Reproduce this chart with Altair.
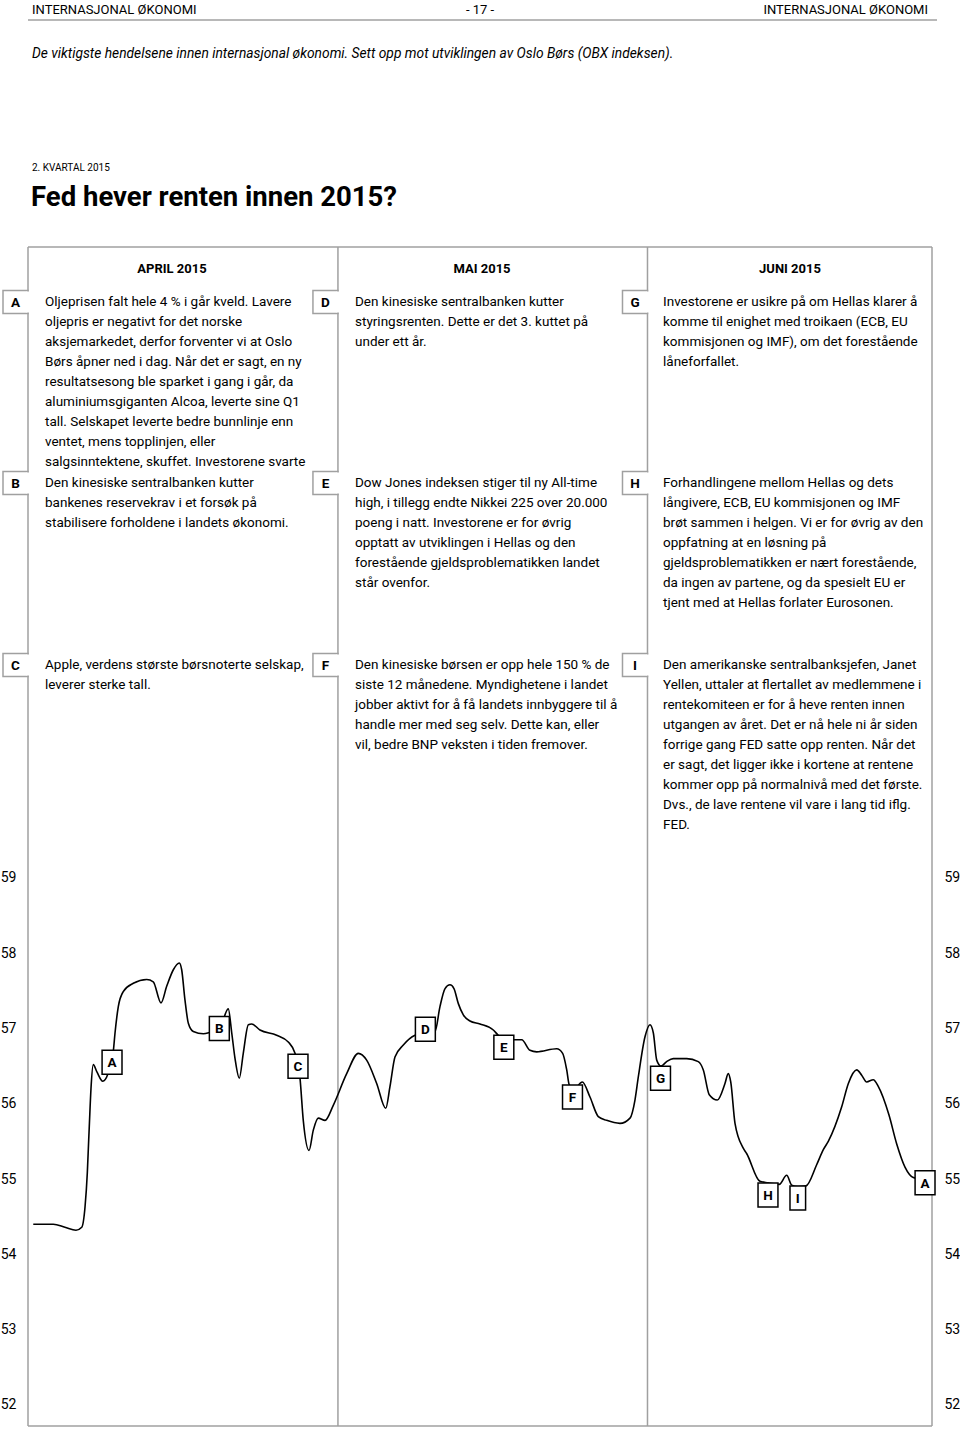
import altair as alt
import pandas as pd

# ------------------------------------------------------------------ data
dag = [0.53, 2.55, 3.72, 4.83, 5.41, 5.74, 5.97, 6.11, 6.17, 6.34, 6.57, 6.95, 7.52, 8.05,
       8.59, 8.76, 9.09, 9.59, 10.60, 11.95, 12.61, 13.39, 13.96, 14.63, 15.23, 15.47,
       15.80, 16.14, 16.64, 17.65, 18.32, 19.30, 20.16, 20.51, 20.84, 21.27, 21.67, 22.18,
       22.52, 23.35, 25.03, 26.20, 26.88, 27.38, 27.71, 28.29, 28.72, 29.22, 29.90, 30.73,
       32.08, 33.25, 34.09, 35.10, 36.01, 36.44, 36.94, 37.78, 38.96, 39.96, 40.97, 41.47,
       41.98, 42.48, 42.88, 43.32, 43.82, 44.49, 45.50, 46.84, 47.34, 48.02, 48.85, 49.70,
       50.53, 51.21, 53.22, 53.82, 54.23, 54.49, 55.06, 55.57, 55.80, 56.57, 57.41, 58.25,
       59.59, 60.60, 61.10, 61.44, 62.11, 62.61, 62.95, 63.29, 63.72, 64.29, 64.96, 66.31,
       67.47, 67.98, 68.58, 69.39, 70.16, 70.49, 70.74, 71.17, 72.00, 72.34, 73.68, 74.49,
       75.63, 76.37, 76.88, 77.51, 78.32, 79.39, 80.06, 80.56, 81.91, 82.58, 83.42, 83.92,
       84.42, 85.09, 85.59, 86.67, 87.44, 88.28, 89.12, 89.80]
obx = [54.40, 54.40, 54.36, 54.32, 54.36, 54.63, 55.08, 55.52, 55.70, 56.20, 56.52, 56.42,
       56.30, 56.40, 56.70, 56.94, 57.29, 57.49, 57.60, 57.65, 57.62, 57.34, 57.56, 57.78,
       57.87, 57.78, 57.38, 57.07, 56.96, 56.93, 56.95, 57.00, 57.26, 56.94, 56.60, 56.34,
       56.67, 57.05, 57.06, 56.98, 56.91, 56.82, 56.67, 56.34, 55.78, 55.38, 55.65, 55.81,
       55.78, 55.98, 56.40, 56.67, 56.58, 56.27, 55.94, 56.23, 56.62, 56.78, 56.91, 56.94,
       56.96, 57.29, 57.53, 57.58, 57.53, 57.33, 57.18, 57.10, 57.06, 56.98, 56.91, 56.85,
       56.85, 56.85, 56.71, 56.69, 56.73, 56.67, 56.45, 56.25, 56.20, 56.27, 56.29, 56.09,
       55.83, 55.78, 55.74, 55.81, 56.05, 56.36, 56.89, 57.05, 56.94, 56.58, 56.50, 56.56,
       56.60, 56.60, 56.56, 56.45, 56.12, 56.05, 56.27, 56.40, 56.29, 55.74, 55.41, 55.34,
       54.97, 54.95, 54.93, 55.05, 54.92, 54.90, 54.91, 55.19, 55.39, 55.50, 55.96, 56.27,
       56.45, 56.38, 56.29, 56.32, 56.23, 55.85, 55.47, 55.16, 55.02, 55.00]

boks_bokstav = ["A", "B", "C", "D", "E", "F", "G", "H", "I", "A"]
boks_dag = [8.46, 19.26, 27.18, 40.00, 47.90, 54.81, 63.67, 74.49, 77.49, 90.30]
boks_obx = [56.55, 57.00, 56.50, 56.99, 56.75, 56.09, 56.34, 54.79, 54.75, 54.95]

maaned_grenser = [31.2, 62.36]
y_verdier = [52, 53, 54, 55, 56, 57, 58, 59]
maaneder = ["APRIL 2015", "MAI 2015", "JUNI 2015"]

topptekst = "INTERNASJONAL ØKONOMI"
sidetall = "- 17 -"
undertittel = ("De viktigste hendelsene innen internasjonal økonomi. "
               "Sett opp mot utviklingen av Oslo Børs (OBX indeksen).")
kvartal = "2. KVARTAL 2015"
tittel = "Fed hever renten innen 2015?"

hendelser = {
    "A": ["Oljeprisen falt hele 4 % i går kveld. Lavere",
          "oljepris er negativt for det norske",
          "aksjemarkedet, derfor forventer vi at Oslo",
          "Børs åpner ned i dag. Når det er sagt, en ny",
          "resultatsesong ble sparket i gang i går, da",
          "aluminiumsgiganten Alcoa, leverte sine Q1",
          "tall. Selskapet leverte bedre bunnlinje enn",
          "ventet, mens topplinjen, eller",
          "salgsinntektene, skuffet. Investorene svarte"],
    "B": ["Den kinesiske sentralbanken kutter",
          "bankenes reservekrav i et forsøk på",
          "stabilisere forholdene i landets økonomi."],
    "C": ["Apple, verdens største børsnoterte selskap,",
          "leverer sterke tall."],
    "D": ["Den kinesiske sentralbanken kutter",
          "styringsrenten. Dette er det 3. kuttet på",
          "under ett år."],
    "E": ["Dow Jones indeksen stiger til ny All-time",
          "high, i tillegg endte Nikkei 225 over 20.000",
          "poeng i natt. Investorene er for øvrig",
          "opptatt av utviklingen i Hellas og den",
          "forestående gjeldsproblematikken landet",
          "står ovenfor."],
    "F": ["Den kinesiske børsen er opp hele 150 % de",
          "siste 12 månedene. Myndighetene i landet",
          "jobber aktivt for å få landets innbyggere til å",
          "handle mer med seg selv. Dette kan, eller",
          "vil, bedre BNP veksten i tiden fremover."],
    "G": ["Investorene er usikre på om Hellas klarer å",
          "komme til enighet med troikaen (ECB, EU",
          "kommisjonen og IMF), om det forestående",
          "låneforfallet."],
    "H": ["Forhandlingene mellom Hellas og dets",
          "långivere, ECB, EU kommisjonen og IMF",
          "brøt sammen i helgen. Vi er for øvrig av den",
          "oppfatning at en løsning på",
          "gjeldsproblematikken er nært forestående,",
          "da ingen av partene, og da spesielt EU er",
          "tjent med at Hellas forlater Eurosonen."],
    "I": ["Den amerikanske sentralbanksjefen, Janet",
          "Yellen, uttaler at flertallet av medlemmene i",
          "rentekomiteen er for å heve renten innen",
          "utgangen av året. Det er nå hele ni år siden",
          "forrige gang FED satte opp renten. Når det",
          "er sagt, det ligger ikke i kortene at rentene",
          "kommer opp på normalnivå med det første.",
          "Dvs., de lave rentene vil vare i lang tid iflg.",
          "FED."],
}

# ------------------------------------------------------------------ layout
PAGE_W, PAGE_H = 960, 1429
L, T, R, B = 28, 247, 932, 1426
W, H = R - L, B - T
DAYS = 91.0
Y_DOM = [51.721, 67.378]
FONT = "Roboto"
GRAY = "#a0a0a0"


def px(x):
    return x - L


def py(y):
    return y - T


col_right = [L] + [L + g * W / DAYS for g in maaned_grenser]
col_text_x = [45, 355, 663]
row_y = [302, 483, 665]
line_h = 20

# text tables
body_rows, tab_rows, tab_letter_rows, erase_rows = [], [], [], []
letters = "ABCDEFGHI"
for c in range(3):
    for r in range(3):
        k = letters[c * 3 + r]
        for i, s in enumerate(hendelser[k]):
            body_rows.append({"tekst": s, "x": px(col_text_x[c]), "y": py(row_y[r] + i * line_h)})
        top, bot = row_y[r] - 11.5, row_y[r] + 11.5
        right = col_right[c]
        left = right - 25
        tab_rows.append({"x": px(left), "x2": px(right), "y": py(top), "y2": py(bot)})
        erase_rows.append({"x": px(right), "x2": px(right), "y": py(top) + 1, "y2": py(bot) - 1})
        tab_letter_rows.append({"tekst": k, "x": px((left + right) / 2), "y": py(row_y[r] + 1)})

frame_rows = [
    {"x": px(28), "x2": px(937), "y": py(20), "y2": py(20)},
    {"x": px(L), "x2": px(R), "y": py(T), "y2": py(T)},
    {"x": px(L), "x2": px(R), "y": py(B), "y2": py(B)},
    {"x": px(L), "x2": px(L), "y": py(T), "y2": py(B)},
    {"x": px(R), "x2": px(R), "y": py(T), "y2": py(B)},
]

header_left = pd.DataFrame([{"tekst": topptekst, "x": px(32), "y": py(10)}])
sub_df = pd.DataFrame([{"tekst": undertittel, "x": px(32), "y": py(54)}])
header_center = pd.DataFrame([{"tekst": sidetall, "x": px(480), "y": py(10)}])
header_right = pd.DataFrame([{"tekst": topptekst, "x": px(928), "y": py(10)}])
kvartal_df = pd.DataFrame([{"tekst": kvartal, "x": px(32), "y": py(168)}])
tittel_df = pd.DataFrame([{"tekst": tittel, "x": px(31), "y": py(198)}])
maaned_df = pd.DataFrame([{"tekst": m, "x": px(cx), "y": py(269)}
                          for m, cx in zip(maaneder, [172, 482, 790])])

xs = alt.X("x:Q", scale=None, axis=None)
ys = alt.Y("y:Q", scale=None, axis=None)


def text_layer(df, align="left", size=13, weight="normal", style="normal", color="black"):
    return alt.Chart(df).mark_text(
        align=align, baseline="middle", font=FONT, fontSize=size,
        fontWeight=weight, fontStyle=style, color=color
    ).encode(x=xs, y=ys, text="tekst:N")


def seg_layer(rows, color=GRAY, width=1.5):
    return alt.Chart(pd.DataFrame(rows)).mark_rule(color=color, strokeWidth=width).encode(
        x=xs, x2="x2:Q", y=ys, y2="y2:Q")


frame = seg_layer(frame_rows)

x_scale = alt.Scale(domain=[0, DAYS], nice=False, zero=False)
y_scale = alt.Scale(domain=Y_DOM, nice=False, zero=False)

dividers = alt.Chart(pd.DataFrame({"grense": maaned_grenser})).mark_rule(
    color=GRAY, strokeWidth=1.5
).encode(x=alt.X("grense:Q", scale=x_scale, axis=None), y=alt.value(0), y2=alt.value(H))

tabs = alt.Chart(pd.DataFrame(tab_rows)).mark_rect(
    fill="white", stroke=GRAY, strokeWidth=1.5
).encode(x=xs, x2="x2:Q", y=ys, y2="y2:Q")
erase = seg_layer(erase_rows, color="white", width=3)

axis_common = dict(values=y_verdier, format="d", ticks=False, domain=False, grid=False,
                   labelFont=FONT, labelFontSize=14, labelColor="black", labelPadding=12,
                   title=None)

line_df = pd.DataFrame({"dag": dag, "obx": obx})
line = alt.Chart(line_df).mark_line(
    color="black", strokeWidth=1.6, interpolate="monotone"
).encode(
    x=alt.X("dag:Q", scale=x_scale, axis=None),
    y=alt.Y("obx:Q", scale=y_scale, axis=alt.Axis(orient="left", **axis_common)),
)

box_df = pd.DataFrame({"bokstav": boks_bokstav, "dag": boks_dag, "obx": boks_obx})
wide_path = "M-0.83,-1H0.83V1H-0.83Z"
narrow_path = "M-0.65,-1H0.65V1H-0.65Z"

boxes = alt.Chart(box_df).transform_filter("datum.bokstav != 'I'").mark_point(
    shape=wide_path, size=576, filled=True, fill="white", stroke="black",
    strokeWidth=1.5, opacity=1
).encode(
    x=alt.X("dag:Q", scale=x_scale, axis=None),
    y=alt.Y("obx:Q", scale=y_scale, axis=alt.Axis(orient="right", **axis_common)),
)
boxes_i = alt.Chart(box_df).transform_filter("datum.bokstav == 'I'").mark_point(
    shape=narrow_path, size=576, filled=True, fill="white", stroke="black",
    strokeWidth=1.5, opacity=1
).encode(
    x=alt.X("dag:Q", scale=x_scale, axis=None),
    y=alt.Y("obx:Q", scale=y_scale, axis=None),
)
box_text = alt.Chart(box_df).mark_text(
    font=FONT, fontSize=13.5, fontWeight="bold", color="black", baseline="middle", dy=1
).encode(
    x=alt.X("dag:Q", scale=x_scale, axis=None),
    y=alt.Y("obx:Q", scale=y_scale, axis=None),
    text="bokstav:N",
)

chart = alt.layer(
    frame,
    dividers,
    tabs,
    erase,
    text_layer(header_left, size=13),
    text_layer(sub_df, size=13.8, style="italic"),
    text_layer(header_center, align="center", size=13),
    text_layer(header_right, align="right", size=13),
    text_layer(kvartal_df, size=10),
    text_layer(tittel_df, size=27.5, weight="bold"),
    text_layer(maaned_df, align="center", size=13, weight="bold"),
    text_layer(pd.DataFrame(tab_letter_rows), align="center", size=13.5, weight="bold"),
    text_layer(pd.DataFrame(body_rows), size=13.5),
    line,
    boxes,
    boxes_i,
    box_text,
).resolve_axis(y="independent").properties(
    width=W, height=H,
    autosize=alt.AutoSizeParams(type="none"),
    padding={"left": L, "top": T, "right": PAGE_W - R, "bottom": PAGE_H - B},
    background="white",
).configure_view(stroke=None)

chart.save("out.html", embed_options={"renderer": "svg", "actions": False})
